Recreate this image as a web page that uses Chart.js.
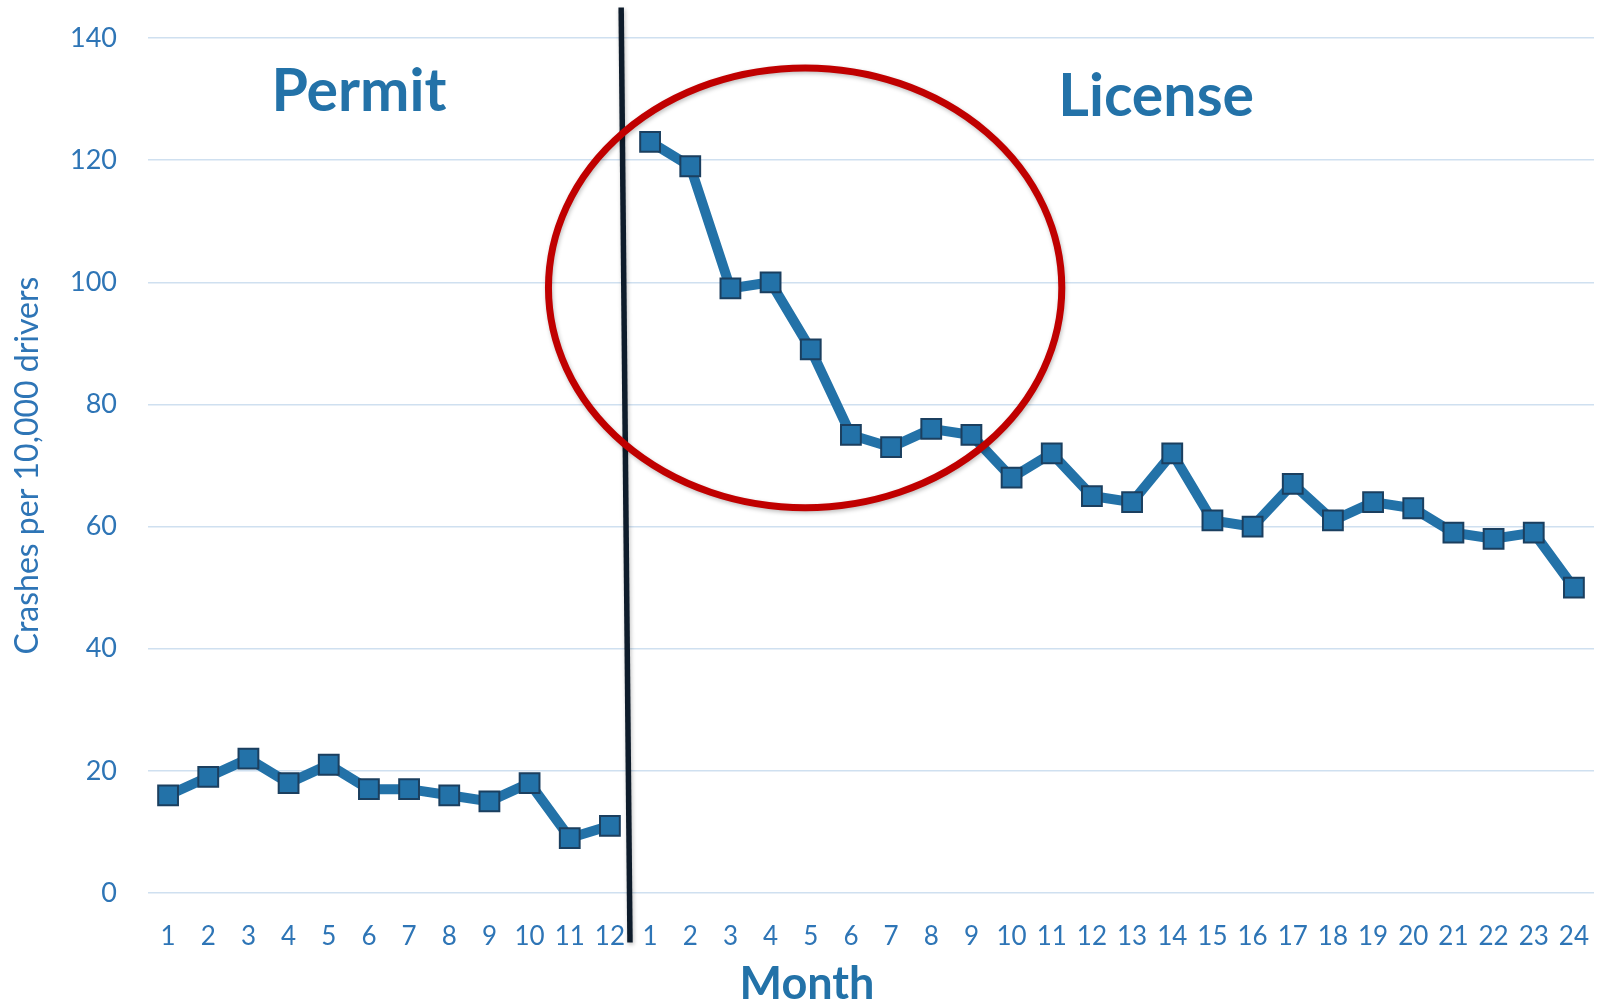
<!DOCTYPE html>
<html lang="en">
<head>
    <meta charset="UTF-8">
    <title>Crashes per 10,000 drivers by month</title>
    <style>
        html, body { margin: 0; padding: 0; background: #fff; }
        #chartBox { width: 1604px; height: 1004px; }
    </style>
    <script src="https://cdn.jsdelivr.net/npm/chart.js"></script>
</head>
<body>
    <div id="chartBox"><canvas id="myChart"></canvas></div>
    <script>
        // x axis: 12 months on a permit, then 24 months with a license
        var permitMonths = ['1', '2', '3', '4', '5', '6', '7', '8', '9', '10', '11', '12'];
        var licenseMonths = ['1', '2', '3', '4', '5', '6', '7', '8', '9', '10', '11', '12',
                             '13', '14', '15', '16', '17', '18', '19', '20', '21', '22', '23', '24'];

        // crashes per 10,000 drivers
        var permitCrashes = [16, 19, 22, 18, 21, 17, 17, 16, 15, 18, 9, 11];
        var licenseCrashes = [123, 119, 99, 100, 89, 75, 73, 76, 75, 68, 72, 65,
                              64, 72, 61, 60, 67, 61, 64, 63, 59, 58, 59, 50];

        var yTicks = [0, 20, 40, 60, 80, 100, 120, 140];

        var blue = '#2372a8';
        var tickBlue = '#2e75b6';

        var months = permitMonths.concat(licenseMonths);
        var permitData = permitCrashes.concat(licenseMonths.map(function() { return null; }));
        var licenseData = permitMonths.map(function() { return null; }).concat(licenseCrashes);

        // Permit / License labels, axis title, divider line and the red ellipse
        var overlays = {
            id: 'overlays',
            afterDraw: function(chart) {
                var x = chart.scales.x, y = chart.scales.y, ctx = chart.ctx;
                ctx.save();

                ctx.fillStyle = blue;
                ctx.font = 'bold 59px Lato';
                ctx.textAlign = 'center';
                ctx.textBaseline = 'alphabetic';
                ctx.fillText('Permit', x.getPixelForValue(4.75), y.getPixelForValue(128));
                ctx.fillText('License', x.getPixelForValue(24.6), y.getPixelForValue(127.3));

                ctx.font = 'bold 45px Lato';
                ctx.textBaseline = 'middle';
                ctx.fillText('Month', 807, 984);

                ctx.shadowColor = 'rgba(0,0,0,0.25)';
                ctx.shadowBlur = 4;
                ctx.shadowOffsetX = 1;
                ctx.shadowOffsetY = 2;

                ctx.strokeStyle = '#0e1c2b';
                ctx.lineWidth = 5.5;
                ctx.beginPath();
                ctx.moveTo(x.getPixelForValue(11.28), y.getPixelForValue(145));
                ctx.lineTo(x.getPixelForValue(11.5), y.getPixelForValue(-8.1));
                ctx.stroke();

                var cx = x.getPixelForValue(15.86), cy = y.getPixelForValue(99.1);
                var rx = x.getPixelForValue(15.86 + 6.39) - cx;
                var ry = y.getPixelForValue(99.1 - 36) - cy;
                ctx.strokeStyle = '#c00000';
                ctx.lineWidth = 7;
                ctx.beginPath();
                ctx.ellipse(cx, cy, rx, ry, 0, 0, Math.PI * 2);
                ctx.stroke();

                ctx.restore();
            }
        };

        function lineSet(data) {
            return {
                data: data,
                borderColor: blue,
                borderWidth: 10,
                pointStyle: 'rect',
                pointRadius: 14,
                pointBackgroundColor: blue,
                pointBorderColor: '#1b3f5f',
                pointBorderWidth: 2,
                tension: 0,
                spanGaps: false
            };
        }

        function createChart() {
            var ctx = document.getElementById('myChart').getContext('2d');
            new Chart(ctx, {
                type: 'line',
                data: {
                    labels: months,
                    datasets: [lineSet(permitData), lineSet(licenseData)]
                },
                options: {
                    responsive: true,
                    maintainAspectRatio: false,
                    animation: false,
                    layout: { autoPadding: false, padding: { top: 38, right: 10, bottom: 0, left: 0 } },
                    plugins: {
                        legend: { display: false },
                        tooltip: { enabled: false }
                    },
                    scales: {
                        x: {
                            offset: true,
                            grid: { display: false },
                            border: { display: false },
                            ticks: {
                                color: tickBlue,
                                font: { family: 'Lato', size: 26 },
                                padding: 20,
                                maxRotation: 0,
                                autoSkip: false
                            },
                            afterFit: function(scale) {
                                scale.height = 111;
                                scale.paddingLeft = 0;
                                scale.paddingRight = 0;
                            }
                        },
                        y: {
                            min: 0,
                            max: 140,
                            afterBuildTicks: function(scale) {
                                scale.ticks = yTicks.map(function(v) { return { value: v }; });
                            },
                            grid: { color: '#cfe0f0', lineWidth: 1.5, drawTicks: false },
                            border: { display: false },
                            ticks: {
                                color: tickBlue,
                                font: { family: 'Lato', size: 27 },
                                padding: 31
                            },
                            title: {
                                display: true,
                                text: 'Crashes per 10,000 drivers',
                                color: tickBlue,
                                font: { family: 'Lato', size: 32, lineHeight: 1.2 },
                                padding: { top: 8, bottom: 0 }
                            },
                            afterFit: function(scale) {
                                scale.width = 148;
                                // the tick padding gets counted as top room; the layout padding covers it
                                scale.paddingTop = 0;
                                scale.paddingBottom = 0;
                            }
                        }
                    }
                },
                plugins: [overlays]
            });
        }

        Promise.all([
            document.fonts.load('bold 55px Lato'),
            document.fonts.load('27px Lato')
        ]).then(createChart, createChart);
    </script>
</body>
</html>
